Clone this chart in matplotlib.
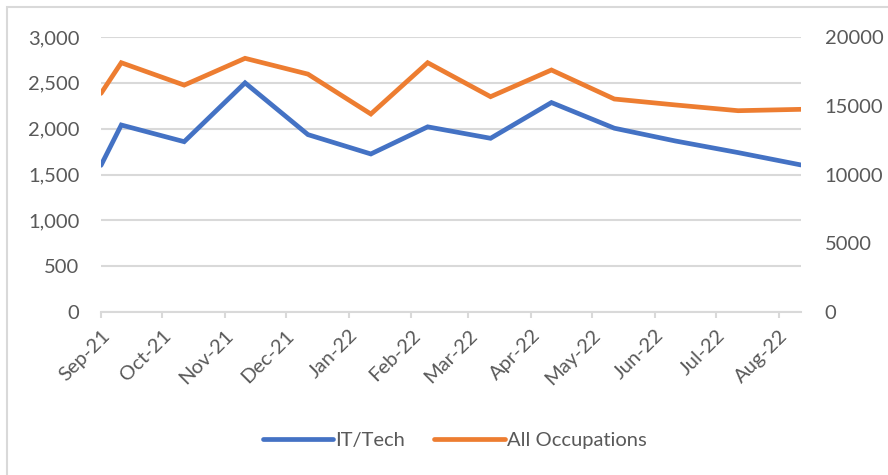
import matplotlib
matplotlib.use("Agg")
import matplotlib.pyplot as plt
import matplotlib.dates as mdates
from matplotlib.ticker import FuncFormatter, MultipleLocator
from matplotlib.patches import Rectangle
import numpy as np

# data
dates = np.array(["2021-09-01", "2021-09-11", "2021-10-12", "2021-11-11", "2021-12-12",
                  "2022-01-12", "2022-02-09", "2022-03-12", "2022-04-11", "2022-05-12",
                  "2022-06-11", "2022-07-12", "2022-08-12"], dtype="datetime64[D]")
it_tech = [1600, 2040, 1858, 2500, 1935, 1724, 2020, 1895, 2285, 2005, 1866, 1739, 1604]
all_occ = [15900, 18130, 16500, 18450, 17300, 14400, 18130, 15660, 17600, 15490, 15060, 14640, 14740]
month_ticks = np.arange("2021-09", "2022-09", dtype="datetime64[M]").astype("datetime64[D]")

blue = "#4472C4"
orange = "#ED7D31"
grey_txt = "#595959"
grid_c = "#D9D9D9"

plt.rcParams["font.family"] = ["Lato", "DejaVu Sans"]

fig = plt.figure(figsize=(8.88, 4.75), dpi=100)
# chart area border (only left/top visible in the crop)
fig.patches.append(Rectangle((7 / 888, -0.1), 2.0, 1 - 7 / 475 + 0.1, transform=fig.transFigure,
                             fill=False, edgecolor="#D9D9D9", lw=1.5))

ax = fig.add_axes([101 / 888, 1 - 312 / 475, 700 / 888, 275 / 475])
ax2 = ax.twinx()

x = dates.astype("O")
l1, = ax.plot(x, it_tech, color=blue, lw=3.4, solid_capstyle="round", solid_joinstyle="miter", label="IT/Tech", zorder=3)
l2, = ax2.plot(x, all_occ, color=orange, lw=3.4, solid_capstyle="round", solid_joinstyle="miter", label="All Occupations", zorder=3)

ax.set_ylim(0, 3000)
ax2.set_ylim(0, 20000)
ax.yaxis.set_major_locator(MultipleLocator(500))
ax2.yaxis.set_major_locator(MultipleLocator(5000))
ax.yaxis.set_major_formatter(FuncFormatter(lambda v, p: f"{int(v):,}"))
ax2.yaxis.set_major_formatter(FuncFormatter(lambda v, p: f"{int(v)}"))
ax.set_xlim(x[0], x[-1])

ax.set_xticks(month_ticks.astype("O"))
ax.xaxis.set_major_formatter(mdates.DateFormatter("%b-%y"))
for lab in ax.get_xticklabels():
    lab.set_rotation(45)
    lab.set_ha("right")
    lab.set_rotation_mode("anchor")

ax.grid(axis="y", color=grid_c, lw=1.5)
ax.set_axisbelow(True)
for a in (ax, ax2):
    for s in a.spines.values():
        s.set_visible(False)
ax.spines["bottom"].set_visible(True)
ax.spines["bottom"].set_color(grid_c)
ax.spines["bottom"].set_linewidth(1.5)

ax.tick_params(axis="y", length=0, pad=15.5, labelsize=14.5, labelcolor=grey_txt)
ax2.tick_params(axis="y", length=0, pad=17, labelsize=14.5, labelcolor=grey_txt)
ax.tick_params(axis="x", length=4.5, width=1.5, color=grid_c, pad=6, labelsize=14.5, labelcolor=grey_txt)

fig.legend(handles=[l1, l2], loc="center", bbox_to_anchor=(0.512, 1 - 440 / 475), ncol=2,
           frameon=False, fontsize=14.5, labelcolor=grey_txt, handlelength=3.5,
           handletextpad=0.1, columnspacing=1.45)

fig.savefig("out.png", dpi=100)
